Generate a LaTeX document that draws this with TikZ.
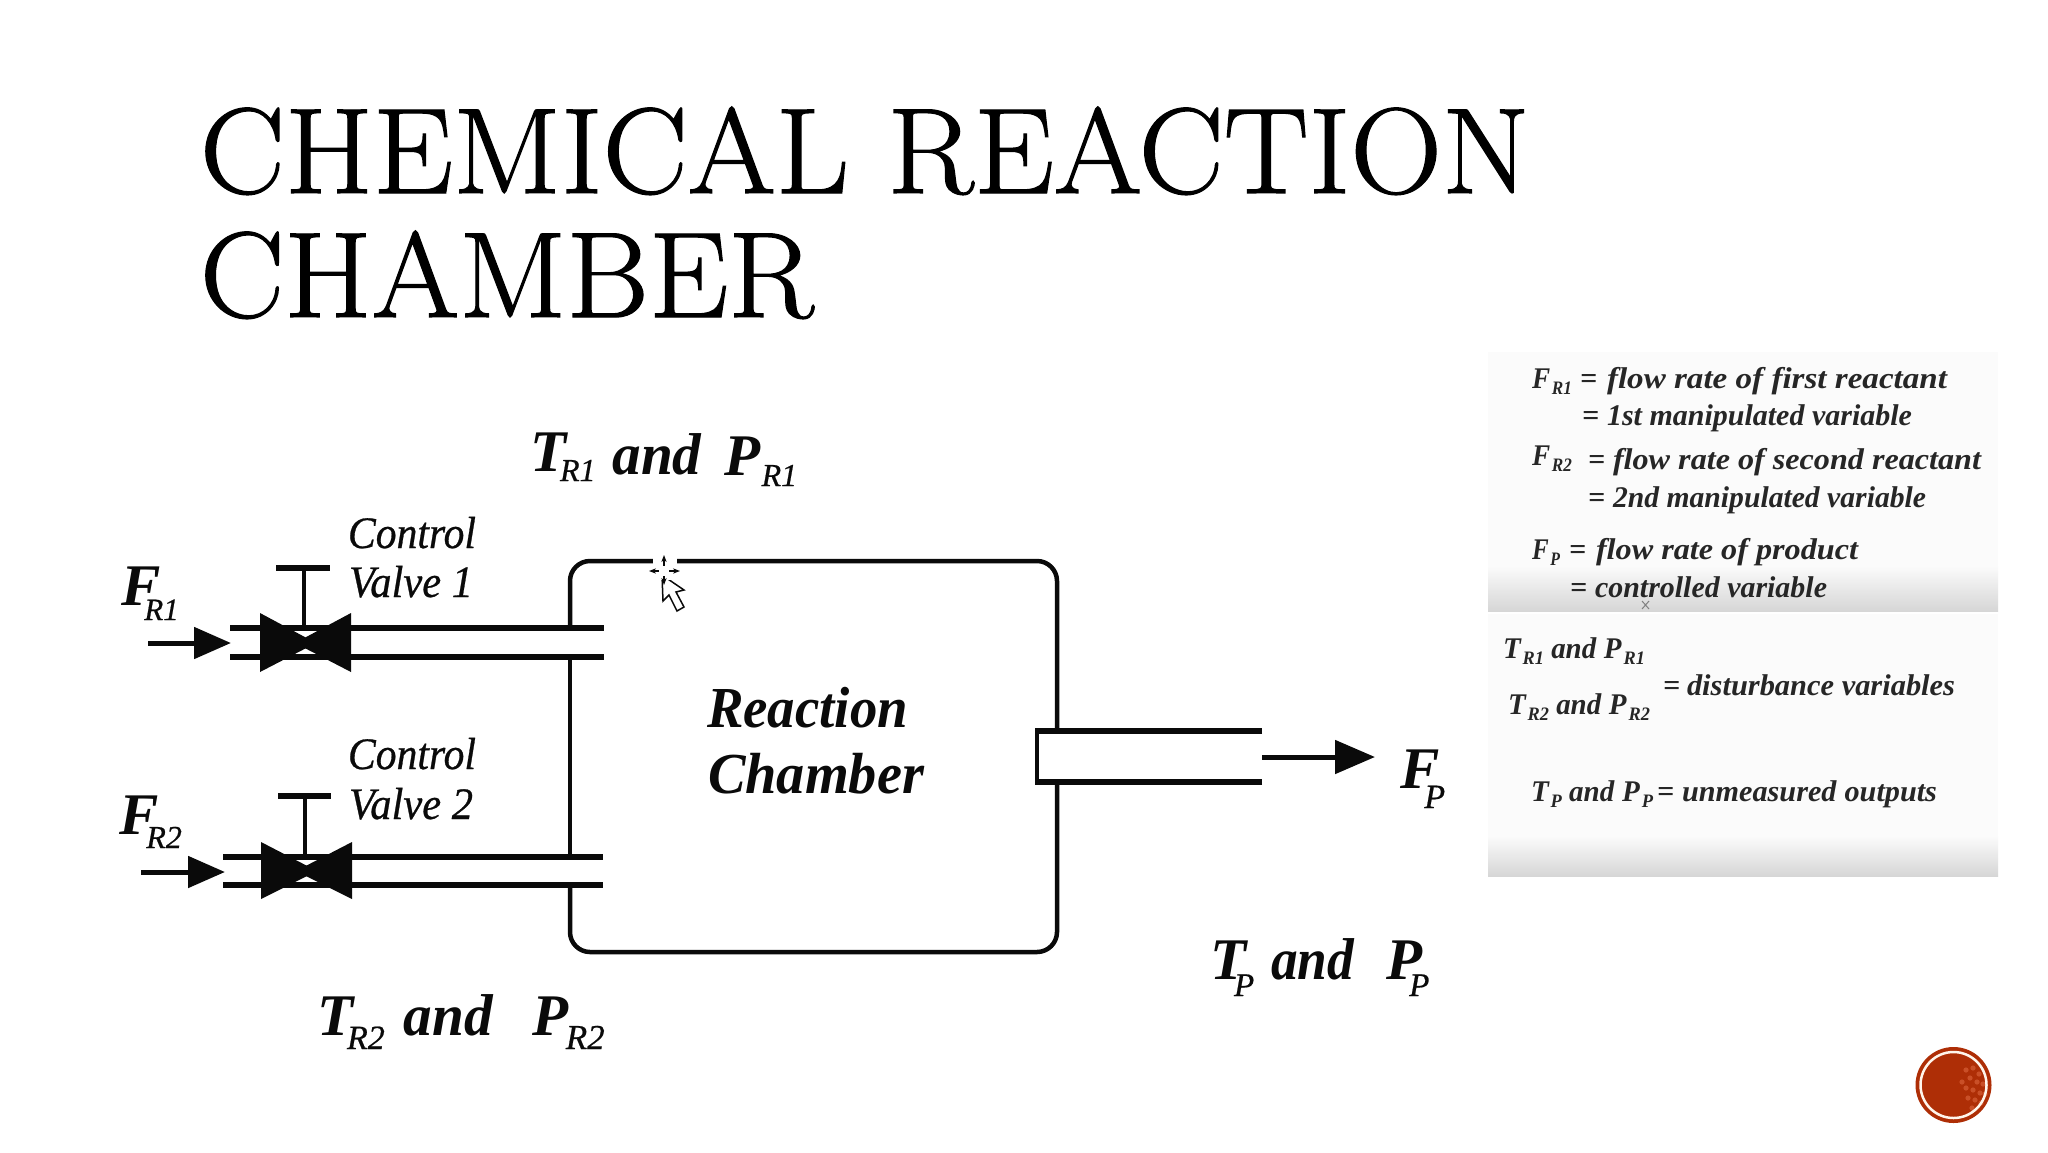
\documentclass[tikz,border=0pt]{standalone}
\usepackage{fontspec}
\usetikzlibrary{arrows.meta}
\newfontfamily\timf{Liberation Serif}
\newfontface\titlef[FakeBold=1]{Latin Modern Roman}
\newfontface\ctrlf[FakeBold=0.6]{Liberation Serif Italic}
\newcommand{\fitw}[2]{\resizebox{#1pt}{\height}{#2}}
\newcommand{\bigf}{\timf\bfseries\itshape\fontsize{59}{59}\selectfont}
% kern, drop, size, text
\newcommand{\bigsub}[4]{\kern#1pt\raisebox{-#2pt}{\mdseries\ctrlf\fontsize{#3}{#3}\selectfont #4}}
\newcommand{\panf}{\timf\bfseries\itshape\fontsize{30}{30}\selectfont}
\newcommand{\pansub}[1]{\kern2pt\raisebox{-6pt}{\fontsize{19}{19}\selectfont #1}}
\definecolor{ink}{HTML}{0A0A0A}
\definecolor{panelbg}{HTML}{FBFBFB}
\definecolor{panelshade}{HTML}{D6D6D6}
\definecolor{badge}{HTML}{AE2E06}
\definecolor{speck}{HTML}{D9623A}
\tikzset{
  txt/.style={anchor=base west,inner sep=0pt,outer sep=0pt,text=ink},
  pantxt/.style={txt,font=\panf,text=black!85},
  wall/.style={draw=ink,line width=4.5pt,line cap=butt},
  pipe/.style={draw=ink,line width=5.5pt},
  flow/.style={draw=ink,line width=5pt,-{Triangle[length=37pt,width=31pt]}},
  valvebody/.style={fill=ink,draw=none},
  stem/.style={draw=ink,line width=4pt},
}
\begin{document}
\begin{tikzpicture}[x=1pt,y=-1pt]
\useasboundingbox (0,0) rectangle (2048,1152);
\fill[white] (0,0) rectangle (2048,1152);
% title
\node[txt,text=black] (title1) at (200,193) {\fitw{1330}{\titlef\fontsize{122}{122}\selectfont CHEMICAL REACTION}};
\node[txt,text=black] (title2) at (200,317) {\fitw{614}{\titlef\fontsize{122}{122}\selectfont CHAMBER}};
% vessel
\draw[wall,rounded corners=20pt] (570,628) -- (570,561) -- (1057,561) -- (1057,731);
\draw[wall,rounded corners=20pt] (1057,782) -- (1057,952) -- (570,952) -- (570,885);
\draw[wall] (570,657) -- (570,857);
% inlet pipes
\draw[pipe] (230,628) -- (604,628);
\draw[pipe] (230,657) -- (604,657);
\draw[pipe] (223,857) -- (603,857);
\draw[pipe] (223,885) -- (603,885);
% outlet
\draw[pipe] (1262,731) -- (1035,731);
\draw[pipe] (1262,782) -- (1035,782);
\draw[wall] (1037,731) -- (1037,782);
% valve 1
\fill[valvebody] (260,613) -- (260,672) -- (316,643) -- cycle;
\fill[valvebody] (351,613) -- (351,672) -- (295,643) -- cycle;
\draw[stem] (304,568) -- (304,630);
\draw[pipe] (276,568) -- (330,568);
% valve 2
\fill[valvebody] (261,842) -- (261,899) -- (317,871) -- cycle;
\fill[valvebody] (352,842) -- (352,899) -- (296,871) -- cycle;
\draw[stem] (305,796) -- (305,858);
\draw[pipe] (278,796) -- (331,796);
% arrows
\coordinate (in1a) at (148,643); \coordinate (in1b) at (231,643);
\coordinate (in2a) at (141,872); \coordinate (in2b) at (225,872);
\coordinate (outa) at (1262,757); \coordinate (outb) at (1375,757);
\draw[flow] (in1a) -- (in1b);
\draw[flow] (in2a) -- (in2b);
\draw[flow,-{Triangle[length=40pt,width=33pt]}] (outa) -- (outb);
% big labels
\node[txt,font=\bigf] (fr1) at (121,605) {F\bigsub{-16}{15}{31}{R1}};
\node[txt,font=\bigf] (fr2) at (119,834) {F\bigsub{-12}{14}{32}{R2}};
\node[txt,font=\bigf] (fp) at (1400,788) {F\bigsub{-15}{20}{34}{P}};
\node[txt,font=\bigf] (tr1) at (530,471) {T\bigsub{-6}{10}{32}{R1}\kern 17pt\raisebox{-3pt}{\fitw{89}{and}}\kern 23pt\raisebox{-4pt}{P}\bigsub{1}{15}{32}{R1}};
\node[txt,font=\bigf] (tr2) at (317,1035) {T\bigsub{-6}{14}{34}{R2}\kern 19pt\fitw{89}{and}\kern 40pt P\bigsub{-3}{14}{35}{R2}};
\node[txt,font=\bigf] (tp) at (1210,979) {T\bigsub{-12}{17}{33}{P}\kern 17pt\fitw{83}{and}\kern 32pt P\bigsub{-13}{17}{33}{P}};
\node[txt,font={\ctrlf\fontsize{45}{45}\selectfont}] (cv1a) at (348,548) {\fitw{128}{Control}};
\node[txt,font={\ctrlf\fontsize{45}{45}\selectfont}] (cv1b) at (349,597) {\fitw{124}{Valve 1}};
\node[txt,font={\ctrlf\fontsize{45}{45}\selectfont}] (cv2a) at (348,769) {\fitw{128}{Control}};
\node[txt,font={\ctrlf\fontsize{45}{45}\selectfont}] (cv2b) at (349,819) {\fitw{124}{Valve 2}};
\node[txt,font={\timf\bfseries\itshape\fontsize{58}{58}\selectfont}] (rc1) at (707,727) {\fitw{201}{Reaction}};
\node[txt,font={\timf\bfseries\itshape\fontsize{58}{58}\selectfont}] (rc2) at (708,793) {\fitw{216}{Chamber}};
% panels
\fill[panelbg] (1488,352) rectangle (1998,611);
\shade[top color=panelbg,bottom color=panelshade] (1488,566) rectangle (1998,611);
\fill[panelbg] (1488,614) rectangle (1998,876);
\shade[top color=panelbg,bottom color=panelshade] (1488,836) rectangle (1998,876);
% panel text
\node[pantxt] (a1) at (1532,388) {\fitw{40}{F\pansub{R1}}};
\node[pantxt] (a2) at (1580,388) {=};
\node[pantxt] (a3) at (1607,388) {\fitw{340}{flow rate of first reactant}};
\node[pantxt] (a4) at (1582,425) {=};
\node[pantxt] (a5) at (1607,425) {\fitw{305}{1st manipulated variable}};
\node[pantxt] (b1) at (1532,465) {\fitw{40}{F\pansub{R2}}};
\node[pantxt] (b2) at (1588,469) {=};
\node[pantxt] (b3) at (1613,469) {\fitw{368}{flow rate of second reactant}};
\node[pantxt] (b4) at (1588,507) {=};
\node[pantxt] (b5) at (1613,507) {\fitw{313}{2nd manipulated variable}};
\node[pantxt] (c1) at (1532,559) {\fitw{28}{F\pansub{P}}};
\node[pantxt] (c2) at (1569,559) {=};
\node[pantxt] (c3) at (1596,559) {\fitw{262}{flow rate of product}};
\node[pantxt] (c4) at (1570,597) {=};
\node[pantxt] (c5) at (1595,597) {\fitw{232}{controlled variable}};
\node[pantxt] (d1) at (1503,658) {\fitw{142}{T\pansub{R1} and\kern 8pt P\pansub{R1}}};
\node[pantxt] (d2) at (1508,714) {\fitw{142}{T\pansub{R2} and\kern 8pt P\pansub{R2}}};
\node[pantxt] (d3) at (1663,695) {=};
\node[pantxt] (d4) at (1687,695) {\fitw{268}{disturbance variables}};
\node[pantxt] (e1) at (1531,801) {\fitw{122}{T\pansub{P} and\kern 8pt P\pansub{P}}};
\node[pantxt] (e2) at (1657,801) {=};
\node[pantxt] (e3) at (1682,801) {\fitw{255}{unmeasured\kern 8pt outputs}};
% cursor
\draw[ink,line width=1.5pt,fill=white] (662,575) -- (663,601) -- (669,595) -- (677,611) -- (684,607) -- (676,592) -- (684,590) -- cycle;
\fill[white] (653,552) rectangle (677,580);
\draw[ink,line width=2pt,{Stealth[length=7pt]}-{Stealth[length=7pt]}] (649,571) -- (680,571);
\draw[ink,line width=2pt,{Stealth[length=7pt]}-{Stealth[length=7pt]}] (664,555) -- (664,585);
\fill[white] (659,566) rectangle (669,576);
\draw[gray,line width=1pt] (1642,601) -- (1649,609) (1649,601) -- (1642,609);
% badge
\fill[badge] (1953.5,1085) circle[radius=38];
\foreach \px/\py in {1966/1070,1973/1068,1979/1074,1970/1078,1977/1082,1983/1084,1966/1088,1973/1090,1980/1093,1968/1098,1975/1100,1981/1103,1972/1108,1962/1082,1985/1094}
  \fill[speck,opacity=.65] (\px,\py) circle[radius=2.6];
\draw[white!92!orange,line width=2.5pt] (1953.5,1085) circle[radius=33];
\end{tikzpicture}
\end{document}
